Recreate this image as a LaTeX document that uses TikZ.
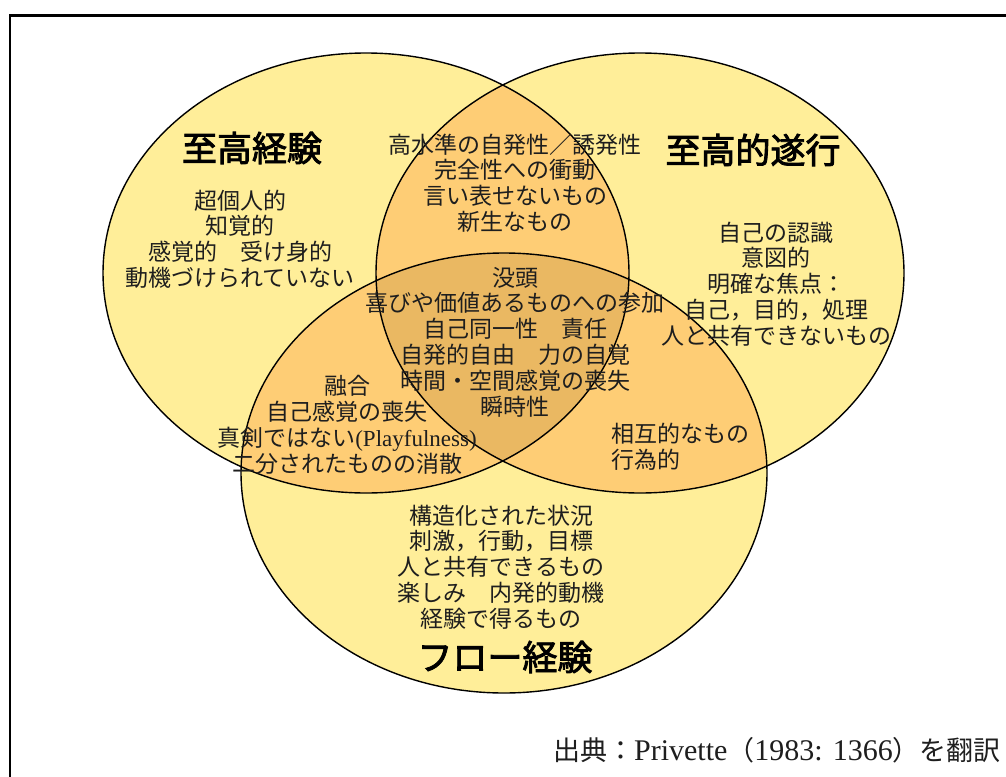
\documentclass[tikz,border=0pt]{standalone}
\usepackage{fontspec}
\setmainfont{Liberation Serif}
\newfontfamily\jp{Noto Sans CJK JP}
\newfontfamily\jpb[FakeBold=2.5]{Noto Sans CJK JP}
\definecolor{cSingle}{RGB}{255,238,153}
\definecolor{cDouble}{RGB}{254,205,117}
\definecolor{cTriple}{RGB}{234,184,98}
\definecolor{ink}{RGB}{30,30,30}
\tikzset{
  body/.style={align=center, text=ink, inner sep=0pt, font=\jp\fontsize{23}{25.8}\selectfont},
  heading/.style={text=black, inner sep=0pt, font=\jpb\fontsize{35}{40}\selectfont},
  outline/.style={draw=black, line width=1.4pt},
}
\begin{document}
\begin{tikzpicture}[x=1pt,y=-1pt]
\useasboundingbox (0,0) rectangle (1006,776);
\fill[white] (0,0) rectangle (1006,776);
\def\EA{(366,273) ellipse [x radius=263pt, y radius=220pt]}
\def\EB{(640,273) ellipse [x radius=264pt, y radius=220pt]}
\def\EC{(504,473) ellipse [x radius=263pt, y radius=220pt]}
% frame
\coordinate (f1) at (10,790);
\coordinate (f2) at (10,15.5);
\coordinate (f3) at (1020,15.5);
\draw[line width=2.2pt] (f1) -- (f2) -- (f3);
% fills
\fill[cSingle] \EA;
\fill[cSingle] \EB;
\fill[cSingle] \EC;
\begin{scope}\clip \EA; \fill[cDouble] \EB; \fill[cDouble] \EC; \end{scope}
\begin{scope}\clip \EB; \fill[cDouble] \EC; \end{scope}
\begin{scope}\clip \EA; \clip \EB; \fill[cTriple] \EC; \end{scope}
% outlines
\draw[outline] \EA;
\draw[outline] \EB;
\draw[outline] \EC;
% headings
\node[heading] (hA) at (252,148) {至高経験};
\node[heading] (hB) at (753,150) {至高的遂行};
\node[heading] (hC) at (505,657) {フロー経験};
% texts
\node[body] (tA) at (240,239) {超個人的\\知覚的\\感覚的　受け身的\\動機づけられていない};
\node[body] (tAB) at (515,183) {高水準の自発性／誘発性\\完全性への衝動\\言い表せないもの\\新生なもの};
\node[body] (tABC) at (515,342) {没頭\\喜びや価値あるものへの参加\\自己同一性　責任\\自発的自由　力の自覚\\時間・空間感覚の喪失\\瞬時性};
\node[body] (tB) at (776,284) {自己の認識\\意図的\\明確な焦点：\\自己，目的，処理\\人と共有できないもの};
\node[body] (tAC) at (347,425) {融合\\自己感覚の喪失\\真剣ではない{\rmfamily\fontsize{23}{25.8}\selectfont(Playfulness)}\\二分されたものの消散};
\node[body, align=left, anchor=west] (tBC) at (611,447) {相互的なもの\\行為的};
\node[body] (tC) at (501,567) {構造化された状況\\刺激，行動，目標\\人と共有できるもの\\楽しみ　内発的動機\\経験で得るもの};
\node[anchor=east, inner sep=0pt, text=ink, font=\fontsize{30}{32}\selectfont] (src) at (1001,750) {{\jp\fontsize{27}{32}\selectfont 出典：}Privette{\jp\fontsize{27}{32}\selectfont （}1983: 1366{\jp\fontsize{27}{32}\selectfont ）を翻訳}};
\end{tikzpicture}
\end{document}
